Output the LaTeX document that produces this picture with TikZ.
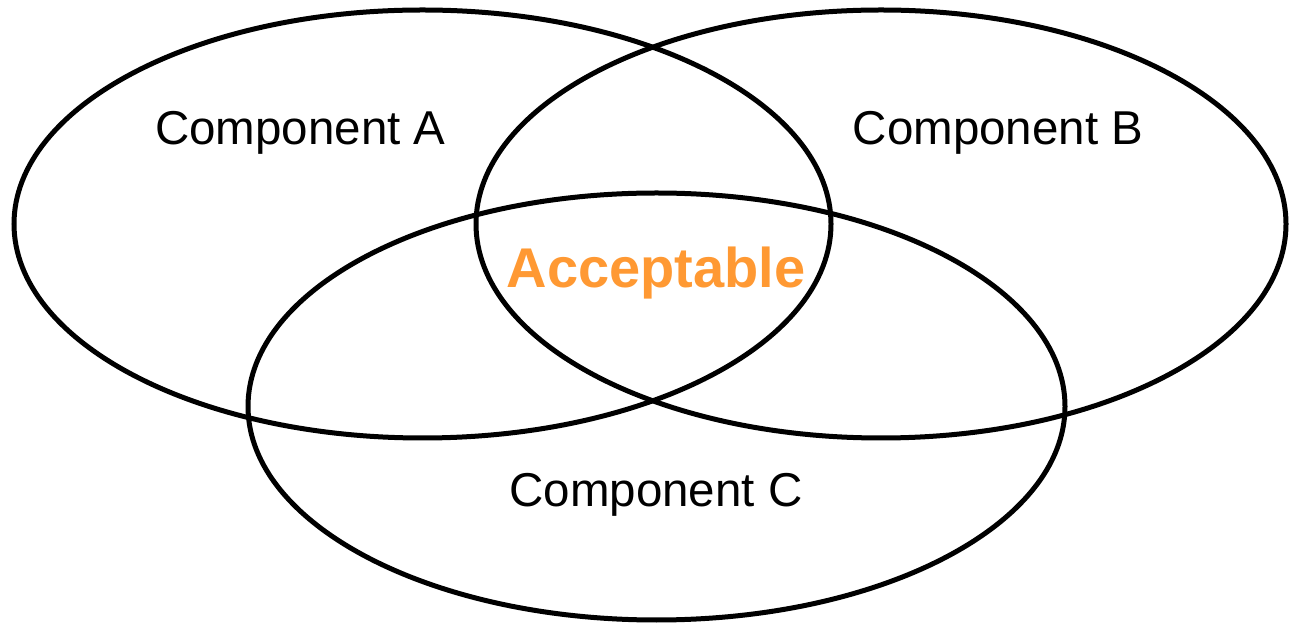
\documentclass[tikz,border=0pt]{standalone}
\usepackage{fontspec}
\setmainfont{Liberation Sans}
\definecolor{accorange}{RGB}{255,153,51}
\begin{document}
\begin{tikzpicture}[x=1pt,y=1pt,
  venn/.style={line width=5pt,draw=black},
  lab/.style={font=\fontsize{47.5}{50}\selectfont,text=black,inner sep=0pt},
  acc/.style={font=\fontsize{56}{58}\selectfont\bfseries,text=accorange,inner sep=0pt}]
\useasboundingbox (0,0) rectangle (1289,626);
\draw[venn] (422.5,402) ellipse [x radius=408.5,y radius=214];
\draw[venn] (881,402) ellipse [x radius=405,y radius=214];
\draw[venn] (656.5,219.5) ellipse [x radius=408.5,y radius=213.5];
\node[lab] (a) at (300.5,493) {Component A};
\node[lab] (b) at (998,493) {Component B};
\node[lab] (c) at (656,131) {Component C};
\node[acc] (acc) at (656,353) {Acceptable};
\end{tikzpicture}
\end{document}
